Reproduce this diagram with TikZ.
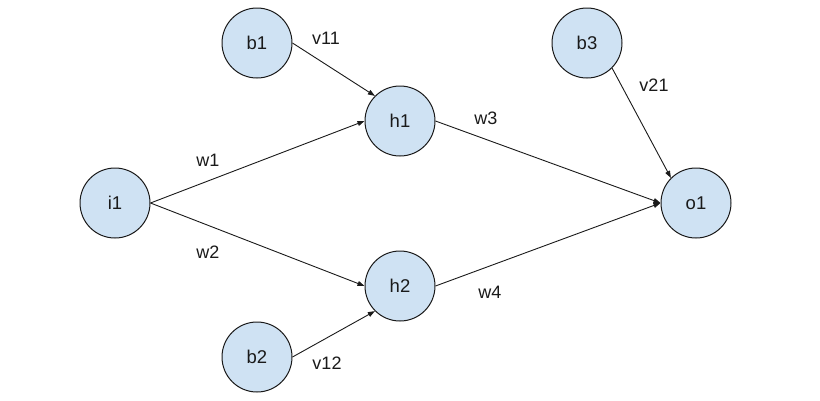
\documentclass[tikz,border=0pt]{standalone}
\usepackage{fontspec}
\setmainfont{Liberation Sans}
\usetikzlibrary{arrows.meta}
\definecolor{nodefill}{HTML}{CFE2F3}
\definecolor{ink}{HTML}{1A1A1A}
\tikzset{
  neuron/.style={circle, draw=ink, line width=1pt, fill=nodefill, minimum size=70pt, inner sep=0pt, font=\fontsize{18.5}{20}\selectfont, text=ink},
  wlabel/.style={font=\fontsize{18}{20}\selectfont, text=ink, inner sep=0pt},
  conn/.style={draw=ink, line width=0.9pt, -{Triangle[length=7pt,width=5pt]}}
}
\begin{document}
\begin{tikzpicture}[x=1pt,y=-1pt]
\useasboundingbox[fill=white] (0,0) rectangle (820,400);
\node[neuron] (i1) at (115,203) {i1};
\node[neuron] (b1) at (257,43) {b1};
\node[neuron] (h1) at (400,121) {h1};
\node[neuron] (h2) at (400,286) {h2};
\node[neuron] (b2) at (257,357) {b2};
\node[neuron] (b3) at (587,43) {b3};
\node[neuron] (o1) at (696,203) {o1};
\draw[conn] (i1.east) -- (h1.west);
\draw[conn] (i1.east) -- (h2.west);
\draw[conn] (b1.east) -- (h1.north west);
\draw[conn] (b2.east) -- (h2.south west);
\draw[conn] (h1.east) -- (o1.west);
\draw[conn] (h2.east) -- (o1.west);
\draw[conn] (b3.south east) -- (o1.north west);
\node[wlabel] (lw1) at (208,160) {w1};
\node[wlabel] (lw2) at (208,252) {w2};
\node[wlabel] (lw3) at (486,118) {w3};
\node[wlabel] (lw4) at (490,292) {w4};
\node[wlabel] (lv11) at (326,38) {v11};
\node[wlabel] (lv12) at (327,363) {v12};
\node[wlabel] (lv21) at (654,85) {v21};
\end{tikzpicture}
\end{document}
